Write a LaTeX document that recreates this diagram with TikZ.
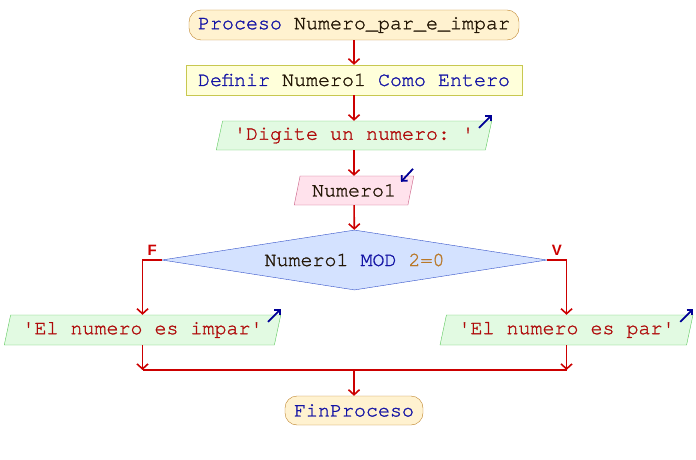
\documentclass[tikz,border=0pt]{standalone}
\usepackage{fontspec}
\setmonofont{texgyrecursor-regular.otf}[FakeBold=1.3]
\setsansfont{Liberation Sans}
\usetikzlibrary{shapes,arrows.meta,calc}

\definecolor{kw}{RGB}{20,20,165}
\definecolor{ident}{RGB}{35,22,5}
\definecolor{str}{RGB}{175,10,10}
\definecolor{numc}{RGB}{185,120,40}
\definecolor{flowred}{RGB}{204,0,0}
\definecolor{iconblue}{RGB}{0,0,150}

\tikzset{
	term/.style={draw={rgb,255:red,190;green,130;blue,40}, fill={rgb,255:red,255;green,242;blue,208},
		rounded corners=12pt, inner sep=0pt, minimum height=30pt},
	defbox/.style={draw={rgb,255:red,200;green,200;blue,80}, fill={rgb,255:red,255;green,255;blue,218},
		inner sep=0pt, minimum height=30pt},
	outbox/.style={trapezium, trapezium left angle=70, trapezium right angle=110, trapezium stretches=true,
		draw={rgb,255:red,90;green,200;blue,90}, fill={rgb,255:red,226;green,250;blue,226},
		inner sep=0pt, minimum height=30pt},
	inbox/.style={outbox, draw={rgb,255:red,200;green,90;blue,130}, fill={rgb,255:red,255;green,226;blue,236}},
	condbox/.style={diamond, draw={rgb,255:red,50;green,80;blue,200}, fill={rgb,255:red,212;green,226;blue,255},
		inner sep=0pt, aspect=6.4, minimum width=385pt, minimum height=60pt},
	flow/.style={draw=flowred, line width=1.6pt, -{Straight Barb[length=5pt,width=11pt]}},
	flowline/.style={draw=flowred, line width=1.6pt},
	iconarrow/.style={draw=iconblue, line width=1.8pt, -{Straight Barb[length=4pt,width=8pt]}},
	branch/.style={font=\sffamily\bfseries\fontsize{15}{16}\selectfont, text=flowred, inner sep=1pt},
}

\begin{document}
\begin{tikzpicture}[x=1pt,y=-1pt,
	every node/.append style={font=\ttfamily\fontsize{20}{24}\selectfont, text=ident}]
\useasboundingbox (0,0) rectangle (696,460);

\node[term, minimum width=330pt] (1) at (354,25)
	{\textcolor{kw}{Proceso} Numero\_par\_e\_impar};
\node[defbox, minimum width=336pt] (2) at (354,80)
	{\textcolor{kw}{Definir} Numero1 \textcolor{kw}{Como} \textcolor{kw}{Entero}};
\node[outbox, minimum width=276pt, minimum height=29pt, text=str] (3) at (354,135.5)
	{\textquotesingle Digite un numero: \textquotesingle};
\node[inbox, minimum width=120pt, minimum height=29pt] (4) at (354,190.5) {Numero1};
\node[condbox] (5) at (354.5,260)
	{Numero1 \textcolor{kw}{MOD} \textcolor{numc}{2=0}};
\node[outbox, minimum width=277pt, text=str] (6) at (142.5,330)
	{\textquotesingle El numero es impar\textquotesingle};
\node[outbox, minimum width=253pt, text=str] (7) at (566.5,330)
	{\textquotesingle El numero es par\textquotesingle};
\coordinate (8) at (354,370);
\node[term, minimum width=138pt, minimum height=29pt] (9) at (354,410.5) {\textcolor{kw}{FinProceso}};

% icons on input/output
\draw[iconarrow] ([shift={(-13,7)}]3.top right corner) -- ([shift={(0,-6)}]3.top right corner);
\draw[iconarrow] ([shift={(-1,-7)}]4.top right corner) -- ([shift={(-13,6)}]4.top right corner);
\draw[iconarrow] ([shift={(-13,7)}]6.top right corner) -- ([shift={(0,-6)}]6.top right corner);
\draw[iconarrow] ([shift={(-13,7)}]7.top right corner) -- ([shift={(0,-6)}]7.top right corner);

\draw[flow] (1) -- (2);
\draw[flow] (2) -- (3);
\draw[flow] (3) -- (4);
\draw[flow] (4) -- (5);
\draw[flow] (5.west) -| node[branch, pos=0.25, above=3pt] {F} (6.north);
\draw[flow] (5.east) -| node[branch, pos=0.25, above=3pt] {V} (7.north);
\draw[flow] (6.south) -- (6.south |- 8);
\draw[flow] (7.south) -- (7.south |- 8);
\draw[flowline] (6.south |- 8) -- (7.south |- 8);
\draw[flow] (8) -- (9);

\end{tikzpicture}
\end{document}
